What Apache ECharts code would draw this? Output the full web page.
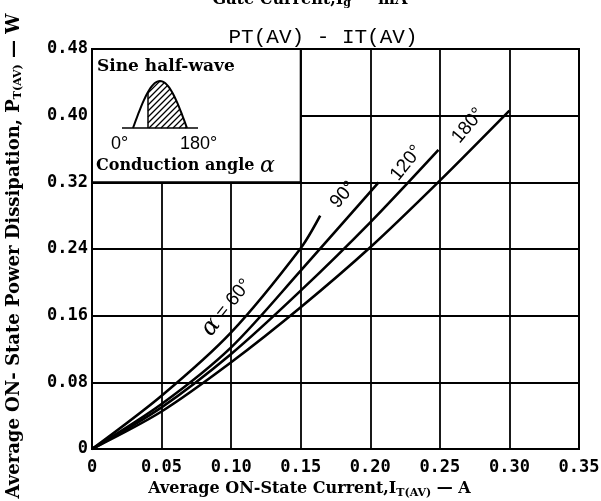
<!DOCTYPE html>
<html>
<head>
<meta charset="utf-8">
<script src="https://cdn.jsdelivr.net/npm/echarts@6/dist/echarts.min.js"></script>
<style>
  html, body { margin: 0; padding: 0; background: #fff; }
  #chart { width: 601px; height: 501px; }
</style>
</head>
<body>
<div id="chart"></div>
<script>
// values (A, W)
const current60 = [0, 0.05, 0.10, 0.15, 0.164]
const power60 = [0, 0.064, 0.140, 0.241, 0.280]
const current90 = [0, 0.05, 0.10, 0.15, 0.206]
const power90 = [0, 0.054, 0.122, 0.214, 0.320]
const current120 = [0, 0.05, 0.10, 0.15, 0.20, 0.249]
const power120 = [0, 0.050, 0.114, 0.190, 0.272, 0.359]
const current180 = [0, 0.05, 0.10, 0.15, 0.20, 0.25, 0.30]
const power180 = [0, 0.045, 0.104, 0.170, 0.242, 0.322, 0.406]

const xTickLabels = ['0', '0.05', '0.10', '0.15', '0.20', '0.25', '0.30', '0.35']
const yTickLabels = ['0', '0.08', '0.16', '0.24', '0.32', '0.40', '0.48']

// label anchors along each curve (data units) and text angle
const curveLabels = [
  { text: '{a|α} = 60°', at: [0.097, 0.170], angle: 51 },
  { text: '90°', at: [0.1805, 0.305], angle: 49 },
  { text: '120°', at: [0.226, 0.343], angle: 51 },
  { text: '180°', at: [0.2703, 0.388], angle: 50 }
]

const pairs = (xs, ys) => xs.map((x, i) => [x, ys[i]])

const chart = echarts.init(document.getElementById('chart'))

const serif = 'DejaVu Serif'
const mono = 'DejaVu Sans Mono'

function curve(name, xs, ys) {
  return {
    name,
    type: 'line',
    data: pairs(xs, ys),
    smooth: 0.3,
    symbol: 'none',
    lineStyle: { color: '#000', width: 2.6 },
    z: 5
  }
}

const subStyle = { fontFamily: serif, fontSize: 11, fontWeight: 'bold', verticalAlign: 'bottom', padding: [8, 0, 0, 0] }

chart.setOption({
  animation: false,
  backgroundColor: '#fff',
  title: [{
    text: 'PT(AV) - IT(AV)',
    left: 318,
    top: 22,
    textAlign: 'center',
    textStyle: { fontFamily: 'Liberation Mono', fontSize: 21, fontWeight: 'normal', color: '#000' }
  }, {
    text: 'Gate Current,I{s|g} — mA',
    left: 305,
    top: -15,
    textAlign: 'center',
    textStyle: {
      fontFamily: serif, fontSize: 16, fontWeight: 'bold', color: '#000',
      rich: { s: subStyle }
    }
  }],
  grid: {
    left: 92,
    right: 22,
    top: 49,
    bottom: 52,
    outerBoundsMode: 'none',
    containLabel: false,
    show: true,
    borderColor: '#000',
    borderWidth: 2,
    backgroundColor: 'transparent'
  },
  xAxis: {
    type: 'value',
    min: 0,
    max: 0.35,
    interval: 0.05,
    name: 'Average ON-State Current,I{s|T(AV)} — A',
    nameLocation: 'middle',
    nameGap: 30,
    nameTextStyle: {
      fontFamily: serif, fontSize: 16, fontWeight: 'bold', color: '#000',
      padding: [0, 52, 0, 0],
      rich: { s: subStyle }
    },
    axisLine: { show: true, lineStyle: { color: '#000', width: 2 } },
    axisTick: { show: false },
    axisLabel: {
      margin: 10,
      color: '#000',
      fontFamily: mono,
      fontWeight: 'bold',
      fontSize: 17,
      formatter: (v) => xTickLabels[Math.round(v / 0.05)]
    },
    splitLine: { show: true, lineStyle: { color: '#000', width: 1.8 } }
  },
  yAxis: {
    type: 'value',
    min: 0,
    max: 0.48,
    interval: 0.08,
    name: 'Average ON- State Power Dissipation, P{s|T(AV)} — W',
    nameLocation: 'middle',
    nameRotate: 90,
    nameGap: 68,
    nameTextStyle: {
      fontFamily: serif, fontSize: 18, fontWeight: 'bold', color: '#000',
      padding: [0, 14, 0, 0],
      rich: { s: subStyle }
    },
    axisLine: { show: true, lineStyle: { color: '#000', width: 2 } },
    axisTick: { show: false },
    axisLabel: {
      margin: 4,
      color: '#000',
      fontFamily: mono,
      fontWeight: 'bold',
      fontSize: 17,
      formatter: (v) => yTickLabels[Math.round(v / 0.08)]
    },
    splitLine: { show: true, lineStyle: { color: '#000', width: 1.8 } }
  },
  series: [
    curve('60°', current60, power60),
    curve('90°', current90, power90),
    curve('120°', current120, power120),
    curve('180°', current180, power180)
  ]
})

// sine half-wave sketch inside the legend box
function insetSketch(ox, oy) {
  const base = oy + 79
  const a = ox + 41
  const b = ox + 95
  const h = 47
  const split = ox + 56
  const hAt = (x) => (x < a || x > b) ? 0 : h * Math.sin(Math.PI * (x - a) / (b - a))
  const wave = []
  for (let i = 0; i <= 40; i++) {
    const x = a + (b - a) * i / 40
    wave.push([x, base - hAt(x)])
  }
  const items = [
    { type: 'line', shape: { x1: ox + 30, y1: base, x2: ox + 106, y2: base }, style: { stroke: '#000', lineWidth: 1.5 } },
    { type: 'polyline', shape: { points: wave }, style: { stroke: '#000', lineWidth: 2, fill: null } },
    { type: 'line', shape: { x1: split, y1: base, x2: split, y2: base - hAt(split) }, style: { stroke: '#000', lineWidth: 1.5 } }
  ]
  // hatch lines "////" between split and the wave
  for (let c = split - h; c < b; c += 6) {
    const x0 = Math.max(c, split)
    if (x0 - c >= hAt(x0)) continue
    let x = x0
    while (x < b && x - c < hAt(x)) x += 0.25
    items.push({
      type: 'line',
      shape: { x1: x0, y1: base - (x0 - c), x2: x, y2: base - (x - c) },
      style: { stroke: '#000', lineWidth: 1.2 }
    })
  }
  return items
}

function overlay() {
  const tl = chart.convertToPixel({ gridIndex: 0 }, [0, 0.48])
  const br = chart.convertToPixel({ gridIndex: 0 }, [0.15, 0.32])
  const ox = tl[0]
  const oy = tl[1]
  const box = [
    { type: 'rect', shape: { x: ox, y: oy, width: br[0] - ox, height: br[1] - oy }, style: { fill: '#fff', stroke: '#000', lineWidth: 2 } },
    { type: 'text', x: ox + 5, y: oy + 9, style: { text: 'Sine half-wave', fill: '#000', font: 'bold 17px "DejaVu Serif"' } },
    { type: 'text', x: ox + 19, y: oy + 86, style: { text: '0°', fill: '#000', font: '18px "Liberation Sans"' } },
    { type: 'text', x: ox + 88, y: oy + 86, style: { text: '180°', fill: '#000', font: '18px "Liberation Sans"' } },
    {
      type: 'text', x: ox + 4, y: oy + 106,
      style: {
        text: 'Conduction angle {a|α}', fill: '#000', font: 'bold 16px "DejaVu Serif"',
        rich: { a: { fontFamily: 'DejaVu Serif', fontStyle: 'italic', fontSize: 22, fill: '#000' } }
      }
    }
  ].concat(insetSketch(ox, oy))

  const labels = curveLabels.map((l) => {
    const p = chart.convertToPixel({ gridIndex: 0 }, l.at)
    return {
      type: 'text',
      x: p[0],
      y: p[1],
      rotation: l.angle * Math.PI / 180,
      style: {
        text: l.text,
        fill: '#000',
        font: '19px "Liberation Sans"',
        align: 'center',
        verticalAlign: 'middle',
        rich: { a: { fontFamily: 'DejaVu Serif', fontStyle: 'italic', fontSize: 24, fill: '#000' } }
      }
    }
  })

  chart.setOption({
    graphic: [{ type: 'group', z: 100, children: box.concat(labels) }]
  })
}

overlay()
</script>
</body>
</html>
